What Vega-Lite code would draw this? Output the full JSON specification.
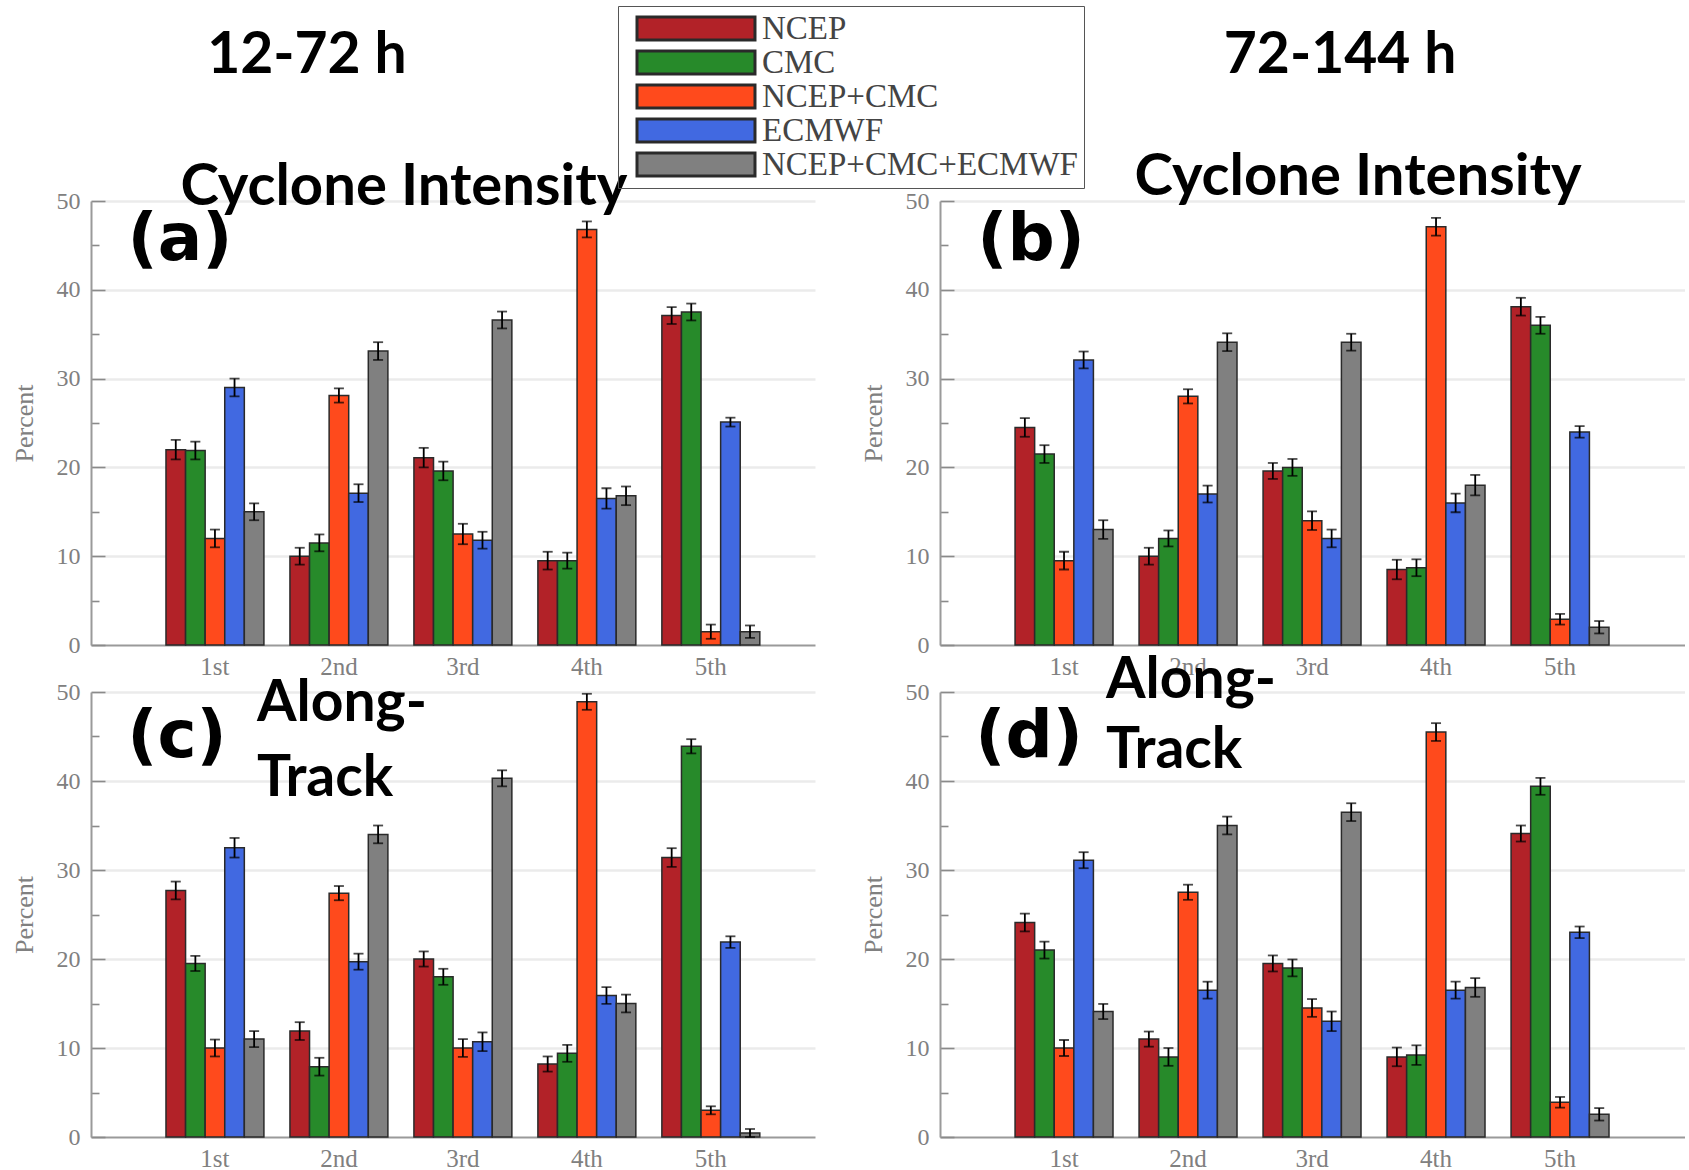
{
  "$schema": "https://vega.github.io/schema/vega-lite/v6.json",
  "background": "white",
  "padding": {"left": 11, "top": 5, "right": 0, "bottom": 0},
  "datasets": {
    "a": [
      {"rank": "1st", "model": "NCEP", "v": 22.0, "e": 1.1},
      {"rank": "1st", "model": "CMC", "v": 21.9, "e": 1.0},
      {"rank": "1st", "model": "NCEP+CMC", "v": 12.0, "e": 1.0},
      {"rank": "1st", "model": "ECMWF", "v": 29.0, "e": 1.0},
      {"rank": "1st", "model": "NCEP+CMC+ECMWF", "v": 15.0, "e": 0.95},
      {"rank": "2nd", "model": "NCEP", "v": 10.0, "e": 0.95},
      {"rank": "2nd", "model": "CMC", "v": 11.5, "e": 0.95},
      {"rank": "2nd", "model": "NCEP+CMC", "v": 28.1, "e": 0.8},
      {"rank": "2nd", "model": "ECMWF", "v": 17.1, "e": 1.0},
      {"rank": "2nd", "model": "NCEP+CMC+ECMWF", "v": 33.1, "e": 1.0},
      {"rank": "3rd", "model": "NCEP", "v": 21.1, "e": 1.1},
      {"rank": "3rd", "model": "CMC", "v": 19.6, "e": 1.05},
      {"rank": "3rd", "model": "NCEP+CMC", "v": 12.5, "e": 1.15},
      {"rank": "3rd", "model": "ECMWF", "v": 11.8, "e": 0.95},
      {"rank": "3rd", "model": "NCEP+CMC+ECMWF", "v": 36.6, "e": 0.95},
      {"rank": "4th", "model": "NCEP", "v": 9.5, "e": 1.0},
      {"rank": "4th", "model": "CMC", "v": 9.5, "e": 0.9},
      {"rank": "4th", "model": "NCEP+CMC", "v": 46.8, "e": 0.9},
      {"rank": "4th", "model": "ECMWF", "v": 16.5, "e": 1.15},
      {"rank": "4th", "model": "NCEP+CMC+ECMWF", "v": 16.8, "e": 1.05},
      {"rank": "5th", "model": "NCEP", "v": 37.1, "e": 0.95},
      {"rank": "5th", "model": "CMC", "v": 37.5, "e": 0.95},
      {"rank": "5th", "model": "NCEP+CMC", "v": 1.5, "e": 0.8},
      {"rank": "5th", "model": "ECMWF", "v": 25.1, "e": 0.5},
      {"rank": "5th", "model": "NCEP+CMC+ECMWF", "v": 1.5, "e": 0.7}
    ],
    "b": [
      {"rank": "1st", "model": "NCEP", "v": 24.5, "e": 1.05},
      {"rank": "1st", "model": "CMC", "v": 21.5, "e": 1.0},
      {"rank": "1st", "model": "NCEP+CMC", "v": 9.5, "e": 1.0},
      {"rank": "1st", "model": "ECMWF", "v": 32.1, "e": 0.95},
      {"rank": "1st", "model": "NCEP+CMC+ECMWF", "v": 13.0, "e": 1.05},
      {"rank": "2nd", "model": "NCEP", "v": 10.0, "e": 0.95},
      {"rank": "2nd", "model": "CMC", "v": 12.0, "e": 0.9},
      {"rank": "2nd", "model": "NCEP+CMC", "v": 28.0, "e": 0.8},
      {"rank": "2nd", "model": "ECMWF", "v": 17.0, "e": 0.95},
      {"rank": "2nd", "model": "NCEP+CMC+ECMWF", "v": 34.1, "e": 1.0},
      {"rank": "3rd", "model": "NCEP", "v": 19.6, "e": 0.9},
      {"rank": "3rd", "model": "CMC", "v": 20.0, "e": 0.95},
      {"rank": "3rd", "model": "NCEP+CMC", "v": 14.0, "e": 1.05},
      {"rank": "3rd", "model": "ECMWF", "v": 12.0, "e": 1.0},
      {"rank": "3rd", "model": "NCEP+CMC+ECMWF", "v": 34.1, "e": 0.95},
      {"rank": "4th", "model": "NCEP", "v": 8.5, "e": 1.1},
      {"rank": "4th", "model": "CMC", "v": 8.7, "e": 0.95},
      {"rank": "4th", "model": "NCEP+CMC", "v": 47.1, "e": 1.0},
      {"rank": "4th", "model": "ECMWF", "v": 16.0, "e": 1.05},
      {"rank": "4th", "model": "NCEP+CMC+ECMWF", "v": 18.0, "e": 1.15},
      {"rank": "5th", "model": "NCEP", "v": 38.1, "e": 1.0},
      {"rank": "5th", "model": "CMC", "v": 36.0, "e": 0.95},
      {"rank": "5th", "model": "NCEP+CMC", "v": 2.9, "e": 0.6},
      {"rank": "5th", "model": "ECMWF", "v": 24.0, "e": 0.65},
      {"rank": "5th", "model": "NCEP+CMC+ECMWF", "v": 2.0, "e": 0.7}
    ],
    "c": [
      {"rank": "1st", "model": "NCEP", "v": 27.7, "e": 1.0},
      {"rank": "1st", "model": "CMC", "v": 19.5, "e": 0.85},
      {"rank": "1st", "model": "NCEP+CMC", "v": 10.0, "e": 0.95},
      {"rank": "1st", "model": "ECMWF", "v": 32.5, "e": 1.1},
      {"rank": "1st", "model": "NCEP+CMC+ECMWF", "v": 11.0, "e": 0.9},
      {"rank": "2nd", "model": "NCEP", "v": 11.9, "e": 1.0},
      {"rank": "2nd", "model": "CMC", "v": 7.9, "e": 1.0},
      {"rank": "2nd", "model": "NCEP+CMC", "v": 27.4, "e": 0.8},
      {"rank": "2nd", "model": "ECMWF", "v": 19.7, "e": 0.9},
      {"rank": "2nd", "model": "NCEP+CMC+ECMWF", "v": 34.0, "e": 1.0},
      {"rank": "3rd", "model": "NCEP", "v": 20.0, "e": 0.85},
      {"rank": "3rd", "model": "CMC", "v": 18.0, "e": 0.9},
      {"rank": "3rd", "model": "NCEP+CMC", "v": 10.0, "e": 1.0},
      {"rank": "3rd", "model": "ECMWF", "v": 10.7, "e": 1.05},
      {"rank": "3rd", "model": "NCEP+CMC+ECMWF", "v": 40.3, "e": 0.9},
      {"rank": "4th", "model": "NCEP", "v": 8.2, "e": 0.85},
      {"rank": "4th", "model": "CMC", "v": 9.4, "e": 0.95},
      {"rank": "4th", "model": "NCEP+CMC", "v": 48.9, "e": 0.9},
      {"rank": "4th", "model": "ECMWF", "v": 15.9, "e": 0.95},
      {"rank": "4th", "model": "NCEP+CMC+ECMWF", "v": 15.0, "e": 1.0},
      {"rank": "5th", "model": "NCEP", "v": 31.4, "e": 1.05},
      {"rank": "5th", "model": "CMC", "v": 43.9, "e": 0.8},
      {"rank": "5th", "model": "NCEP+CMC", "v": 3.0, "e": 0.45},
      {"rank": "5th", "model": "ECMWF", "v": 21.9, "e": 0.65},
      {"rank": "5th", "model": "NCEP+CMC+ECMWF", "v": 0.45, "e": 0.45}
    ],
    "d": [
      {"rank": "1st", "model": "NCEP", "v": 24.1, "e": 1.0},
      {"rank": "1st", "model": "CMC", "v": 21.0, "e": 0.95},
      {"rank": "1st", "model": "NCEP+CMC", "v": 10.0, "e": 0.9},
      {"rank": "1st", "model": "ECMWF", "v": 31.1, "e": 0.9},
      {"rank": "1st", "model": "NCEP+CMC+ECMWF", "v": 14.1, "e": 0.85},
      {"rank": "2nd", "model": "NCEP", "v": 11.0, "e": 0.85},
      {"rank": "2nd", "model": "CMC", "v": 9.0, "e": 1.0},
      {"rank": "2nd", "model": "NCEP+CMC", "v": 27.5, "e": 0.85},
      {"rank": "2nd", "model": "ECMWF", "v": 16.5, "e": 0.95},
      {"rank": "2nd", "model": "NCEP+CMC+ECMWF", "v": 35.0, "e": 1.0},
      {"rank": "3rd", "model": "NCEP", "v": 19.5, "e": 0.9},
      {"rank": "3rd", "model": "CMC", "v": 19.0, "e": 0.95},
      {"rank": "3rd", "model": "NCEP+CMC", "v": 14.5, "e": 1.0},
      {"rank": "3rd", "model": "ECMWF", "v": 13.0, "e": 1.1},
      {"rank": "3rd", "model": "NCEP+CMC+ECMWF", "v": 36.5, "e": 1.0},
      {"rank": "4th", "model": "NCEP", "v": 9.0, "e": 1.05},
      {"rank": "4th", "model": "CMC", "v": 9.2, "e": 1.1},
      {"rank": "4th", "model": "NCEP+CMC", "v": 45.5, "e": 1.0},
      {"rank": "4th", "model": "ECMWF", "v": 16.5, "e": 0.95},
      {"rank": "4th", "model": "NCEP+CMC+ECMWF", "v": 16.8, "e": 1.05},
      {"rank": "5th", "model": "NCEP", "v": 34.1, "e": 0.9},
      {"rank": "5th", "model": "CMC", "v": 39.4, "e": 0.95},
      {"rank": "5th", "model": "NCEP+CMC", "v": 3.9, "e": 0.6},
      {"rank": "5th", "model": "ECMWF", "v": 23.0, "e": 0.65},
      {"rank": "5th", "model": "NCEP+CMC+ECMWF", "v": 2.55, "e": 0.7}
    ]
  },
  "columns": 2,
  "spacing": {"row": 47, "column": 125},
  "bounds": "flush",
  "resolve": {"scale": {"x": "independent", "color": "shared"}, "legend": {"color": "shared"}},
  "concat": [
    {
      "width": 724, "height": 444,
      "data": {"name": "a"},
      "layer": [
        {
          "mark": {"type": "bar", "stroke": "#2a2a2a", "strokeWidth": 1.5},
          "encoding": {
            "x": {"field": "rank", "type": "nominal", "title": null, "scale": {"domain": ["1st", "2nd", "3rd", "4th", "5th"], "paddingInner": 0.21, "paddingOuter": 0.525, "align": 0.576}},
            "xOffset": {"field": "model", "type": "nominal", "scale": {"domain": ["NCEP", "CMC", "NCEP+CMC", "ECMWF", "NCEP+CMC+ECMWF"], "paddingInner": 0, "paddingOuter": 0}},
            "y": {"field": "v", "type": "quantitative", "title": "Percent", "scale": {"domain": [0, 50], "nice": false},
              "axis": {"tickSize": {"condition": {"test": "datum.value % 10 === 0", "value": -14}, "value": -8}, "gridColor": {"condition": {"test": "datum.value % 10 === 0 && datum.value > 0", "value": "#ebebeb"}, "value": "rgba(0,0,0,0)"}}},
            "color": {"field": "model", "type": "nominal", "scale": {"domain": ["NCEP", "CMC", "NCEP+CMC", "ECMWF", "NCEP+CMC+ECMWF"], "range": ["#B22228", "#278A2A", "#FF4A1C", "#4169E1", "#808080"]},
              "legend": {"title": null, "orient": "none", "legendX": 527, "legendY": -195, "direction": "vertical", "symbolType": "M-1,-1H9.26V1H-1Z", "symbolSize": 529, "symbolOffset": 8, "symbolStrokeColor": "black", "symbolStrokeWidth": 3, "symbolOpacity": 1, "labelFont": "Liberation Serif", "labelFontSize": 33, "labelColor": "#444", "labelLimit": 500, "labelOffset": 97, "rowPadding": -10, "strokeColor": "#555", "padding": 6}}
          }
        },
        {
          "mark": {"type": "errorbar", "color": "black", "thickness": 1.8, "ticks": {"size": 10, "thickness": 1.8, "color": "black"}},
          "encoding": {
            "x": {"field": "rank", "type": "nominal"},
            "xOffset": {"field": "model", "type": "nominal"},
            "y": {"field": "v", "type": "quantitative", "title": "Percent"},
            "yError": {"field": "e"}
          }
        },
        {
          "data": {"values": [{"t": "12-72 h"}]},
          "mark": {"type": "text", "font": "Lato", "fontWeight": "bold", "fontSize": 57, "align": "center", "baseline": "alphabetic", "dx": -32, "color": "black"},
          "encoding": {"text": {"field": "t"}, "x": {"datum": "2nd"}, "y": {"datum": 64.4}}
        },
        {
          "data": {"values": [{"t": "Cyclone Intensity"}]},
          "mark": {"type": "text", "font": "Lato", "fontWeight": "bold", "fontSize": 58, "align": "center", "baseline": "alphabetic", "dx": 65, "color": "black"},
          "encoding": {"text": {"field": "t"}, "x": {"datum": "2nd"}, "y": {"datum": 49.6}}
        },
        {
          "data": {"values": [{"t": "(a)"}]},
          "mark": {"type": "text", "font": "DejaVu Sans", "fontWeight": "bold", "fontSize": 66, "align": "center", "baseline": "middle", "dx": -35, "color": "black"},
          "encoding": {"text": {"field": "t"}, "x": {"datum": "1st"}, "y": {"datum": 45.6}}
        }
      ]
    },
    {
      "width": 745, "height": 444,
      "data": {"name": "b"},
      "layer": [
        {
          "mark": {"type": "bar", "stroke": "#2a2a2a", "strokeWidth": 1.5},
          "encoding": {
            "x": {"field": "rank", "type": "nominal", "title": null, "scale": {"domain": ["1st", "2nd", "3rd", "4th", "5th"], "paddingInner": 0.21, "paddingOuter": 0.609, "align": 0.497}},
            "xOffset": {"field": "model", "type": "nominal", "scale": {"domain": ["NCEP", "CMC", "NCEP+CMC", "ECMWF", "NCEP+CMC+ECMWF"], "paddingInner": 0, "paddingOuter": 0}},
            "y": {"field": "v", "type": "quantitative", "title": "Percent", "scale": {"domain": [0, 50], "nice": false},
              "axis": {"tickSize": {"condition": {"test": "datum.value % 10 === 0", "value": -14}, "value": -8}, "gridColor": {"condition": {"test": "datum.value % 10 === 0 && datum.value > 0", "value": "#ebebeb"}, "value": "rgba(0,0,0,0)"}}},
            "color": {"field": "model", "type": "nominal"}
          }
        },
        {
          "mark": {"type": "errorbar", "color": "black", "thickness": 1.8, "ticks": {"size": 10, "thickness": 1.8, "color": "black"}},
          "encoding": {
            "x": {"field": "rank", "type": "nominal"},
            "xOffset": {"field": "model", "type": "nominal"},
            "y": {"field": "v", "type": "quantitative", "title": "Percent"},
            "yError": {"field": "e"}
          }
        },
        {
          "data": {"values": [{"t": "72-144 h"}]},
          "mark": {"type": "text", "font": "Lato", "fontWeight": "bold", "fontSize": 57, "align": "center", "baseline": "alphabetic", "dx": 28, "color": "black"},
          "encoding": {"text": {"field": "t"}, "x": {"datum": "3rd"}, "y": {"datum": 64.4}}
        },
        {
          "data": {"values": [{"t": "Cyclone Intensity"}]},
          "mark": {"type": "text", "font": "Lato", "fontWeight": "bold", "fontSize": 58, "align": "center", "baseline": "alphabetic", "dx": 46, "color": "black"},
          "encoding": {"text": {"field": "t"}, "x": {"datum": "3rd"}, "y": {"datum": 50.7}}
        },
        {
          "data": {"values": [{"t": "(b)"}]},
          "mark": {"type": "text", "font": "DejaVu Sans", "fontWeight": "bold", "fontSize": 66, "align": "center", "baseline": "middle", "dx": -33, "color": "black"},
          "encoding": {"text": {"field": "t"}, "x": {"datum": "1st"}, "y": {"datum": 45.6}}
        }
      ]
    },
    {
      "width": 724, "height": 445,
      "data": {"name": "c"},
      "layer": [
        {
          "mark": {"type": "bar", "stroke": "#2a2a2a", "strokeWidth": 1.5},
          "encoding": {
            "x": {"field": "rank", "type": "nominal", "title": null, "scale": {"domain": ["1st", "2nd", "3rd", "4th", "5th"], "paddingInner": 0.21, "paddingOuter": 0.525, "align": 0.576}},
            "xOffset": {"field": "model", "type": "nominal", "scale": {"domain": ["NCEP", "CMC", "NCEP+CMC", "ECMWF", "NCEP+CMC+ECMWF"], "paddingInner": 0, "paddingOuter": 0}},
            "y": {"field": "v", "type": "quantitative", "title": "Percent", "scale": {"domain": [0, 50], "nice": false},
              "axis": {"tickSize": {"condition": {"test": "datum.value % 10 === 0", "value": -14}, "value": -8}, "gridColor": {"condition": {"test": "datum.value % 10 === 0 && datum.value > 0", "value": "#ebebeb"}, "value": "rgba(0,0,0,0)"}}},
            "color": {"field": "model", "type": "nominal"}
          }
        },
        {
          "mark": {"type": "errorbar", "color": "black", "thickness": 1.8, "ticks": {"size": 10, "thickness": 1.8, "color": "black"}},
          "encoding": {
            "x": {"field": "rank", "type": "nominal"},
            "xOffset": {"field": "model", "type": "nominal"},
            "y": {"field": "v", "type": "quantitative", "title": "Percent"},
            "yError": {"field": "e"}
          }
        },
        {
          "data": {"values": [{"t": "Along-\nTrack"}]},
          "mark": {"type": "text", "font": "Lato", "fontWeight": "bold", "fontSize": 57, "align": "left", "baseline": "alphabetic", "lineBreak": "\n", "lineHeight": 75, "dx": 42, "color": "black"},
          "encoding": {"text": {"field": "t"}, "x": {"datum": "1st"}, "y": {"datum": 46.7}}
        },
        {
          "data": {"values": [{"t": "(c)"}]},
          "mark": {"type": "text", "font": "DejaVu Sans", "fontWeight": "bold", "fontSize": 66, "align": "center", "baseline": "middle", "dx": -38, "color": "black"},
          "encoding": {"text": {"field": "t"}, "x": {"datum": "1st"}, "y": {"datum": 44.9}}
        }
      ]
    },
    {
      "width": 745, "height": 445,
      "data": {"name": "d"},
      "layer": [
        {
          "mark": {"type": "bar", "stroke": "#2a2a2a", "strokeWidth": 1.5},
          "encoding": {
            "x": {"field": "rank", "type": "nominal", "title": null, "scale": {"domain": ["1st", "2nd", "3rd", "4th", "5th"], "paddingInner": 0.21, "paddingOuter": 0.609, "align": 0.497}},
            "xOffset": {"field": "model", "type": "nominal", "scale": {"domain": ["NCEP", "CMC", "NCEP+CMC", "ECMWF", "NCEP+CMC+ECMWF"], "paddingInner": 0, "paddingOuter": 0}},
            "y": {"field": "v", "type": "quantitative", "title": "Percent", "scale": {"domain": [0, 50], "nice": false},
              "axis": {"tickSize": {"condition": {"test": "datum.value % 10 === 0", "value": -14}, "value": -8}, "gridColor": {"condition": {"test": "datum.value % 10 === 0 && datum.value > 0", "value": "#ebebeb"}, "value": "rgba(0,0,0,0)"}}},
            "color": {"field": "model", "type": "nominal"}
          }
        },
        {
          "mark": {"type": "errorbar", "color": "black", "thickness": 1.8, "ticks": {"size": 10, "thickness": 1.8, "color": "black"}},
          "encoding": {
            "x": {"field": "rank", "type": "nominal"},
            "xOffset": {"field": "model", "type": "nominal"},
            "y": {"field": "v", "type": "quantitative", "title": "Percent"},
            "yError": {"field": "e"}
          }
        },
        {
          "data": {"values": [{"t": "Along-\nTrack"}]},
          "mark": {"type": "text", "font": "Lato", "fontWeight": "bold", "fontSize": 57, "align": "left", "baseline": "alphabetic", "lineBreak": "\n", "lineHeight": 70, "dx": 42, "color": "black"},
          "encoding": {"text": {"field": "t"}, "x": {"datum": "1st"}, "y": {"datum": 49.3}}
        },
        {
          "data": {"values": [{"t": "(d)"}]},
          "mark": {"type": "text", "font": "DejaVu Sans", "fontWeight": "bold", "fontSize": 66, "align": "center", "baseline": "middle", "dx": -35, "color": "black"},
          "encoding": {"text": {"field": "t"}, "x": {"datum": "1st"}, "y": {"datum": 45.0}}
        }
      ]
    }
  ],
  "config": {
    "view": {"stroke": null},
    "axisX": {"labelFont": "Liberation Serif", "labelFontSize": 25, "labelColor": "#808080", "labelAngle": 0, "ticks": false, "labelPadding": 9, "domainColor": "#9a9a9a", "domainWidth": 2, "grid": false},
    "axisY": {
      "values": [0, 1, 2, 3, 4, 5, 6, 7, 8, 9, 10, 11, 12, 13, 14, 15, 16, 17, 18, 19, 20, 21, 22, 23, 24, 25, 26, 27, 28, 29, 30, 31, 32, 33, 34, 35, 36, 37, 38, 39, 40, 41, 42, 43, 44, 45, 46, 47, 48, 49, 50],
      "labelExpr": "datum.value % 10 === 0 ? datum.label : ''",
      "labelOverlap": false,
      "labelFont": "Liberation Serif", "labelFontSize": 24, "labelColor": "#808080",
      "titleFont": "Liberation Serif", "titleFontSize": 26, "titleFontWeight": "normal", "titleColor": "#808080", "titlePadding": 19,
      "tickColor": "#8a8a8a", "tickWidth": 1.6,
      "labelPadding": 25,
      "domainColor": "#9a9a9a", "domainWidth": 2,
      "grid": true,
      "gridWidth": 2.5
    }
  }
}
